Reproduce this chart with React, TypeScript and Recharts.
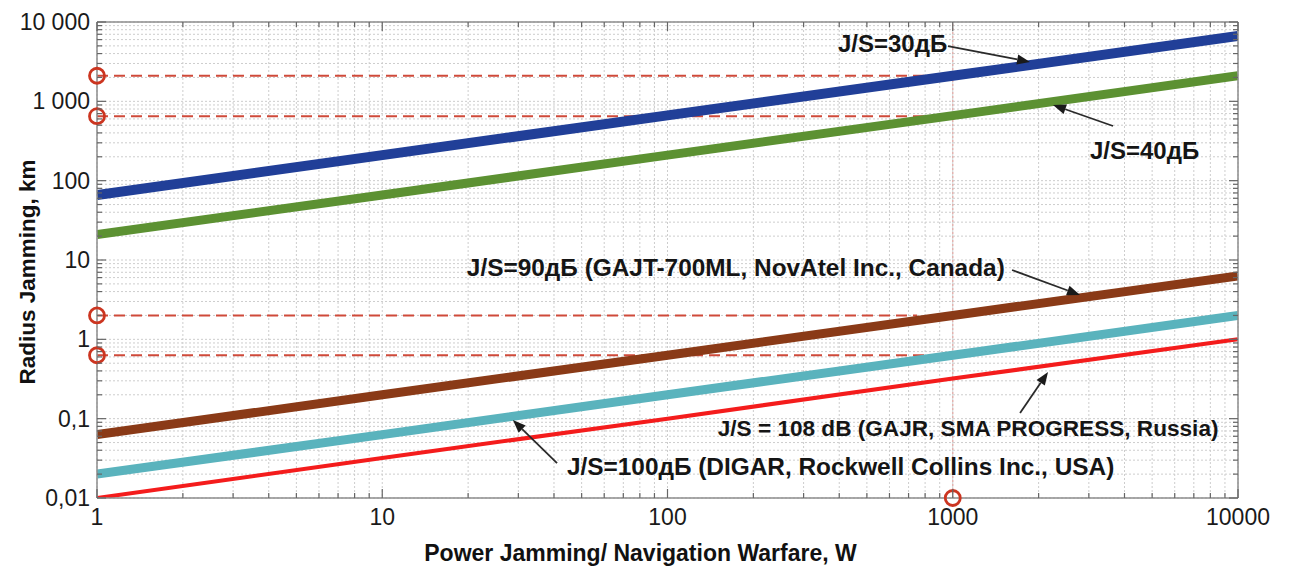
import React from "react";
import {
  LineChart,
  Line,
  XAxis,
  YAxis,
  CartesianGrid,
  ReferenceLine,
  ReferenceDot,
} from "recharts";

/* ================= DATA ================= */

// jammer power, W
const powerW = [1, 10, 100, 1000, 10000];

// jamming radius, km (at each decade)
const js30 = [66, 210, 665, 2100, 6650];
const js40 = [21, 66, 210, 660, 2100];
const js90 = [0.063, 0.2, 0.63, 2, 6.3];
const js100 = [0.02, 0.063, 0.2, 0.63, 2];
const js108 = [0.01, 0.032, 0.1, 0.32, 1];

const xDecades = [1, 10, 100, 1000, 10000];
const xTickLabels = ["1", "10", "100", "1000", "10000"];
const yDecades = [0.01, 0.1, 1, 10, 100, 1000, 10000];
const yTickLabels = ["0,01", "0,1", "1", "10", "100", "1 000", "10 000"];
const minorSteps = [1, 2, 3, 4, 5, 6, 7, 8, 9];

// red dashed guides: level (km) and where each one stops (W)
const guideLevels = [2100, 650, 2, 0.63];
const guideEnds = [1000, 1000, 750, 1000];

// red circles
const circleX = [1, 1, 1, 1, 1000];
const circleY = [2100, 650, 2, 0.63, 0.01];

// annotations (data coordinates)
const noteTexts = [
  "J/S=30дБ",
  "J/S=40дБ",
  "J/S=90дБ (GAJT-700ML, NovAtel Inc., Canada)",
  "J/S = 108 dB (GAJR, SMA PROGRESS, Russia)",
  "J/S=100дБ (DIGAR, Rockwell Collins Inc., USA)",
];
const noteSizes = [24, 24, 24.4, 22.6, 24.4];
const noteX = [396, 3028, 19.8, 150, 44.4];
const noteY = [5430, 243, 7.93, 0.0741, 0.0253];
const arrowFrom = [
  { x: 962, y: 4980 },
  { x: 3647, y: 489 },
  { x: 1614, y: 7.48 },
  { x: 1722, y: 0.118 },
  { x: 41, y: 0.0276 },
];
const arrowTo = [
  { x: 1866, y: 3135 },
  { x: 2246, y: 900 },
  { x: 2793, y: 3.62 },
  { x: 2158, y: 0.387 },
  { x: 28.7, y: 0.0962 },
];

/* ================= SETUP ================= */

const series = [
  { key: "js30", values: js30, color: "#213f98", width: 10 },
  { key: "js40", values: js40, color: "#5c9132", width: 9 },
  { key: "js90", values: js90, color: "#8a3a17", width: 9 },
  { key: "js100", values: js100, color: "#5ab3bd", width: 9 },
  { key: "js108", values: js108, color: "#f41c1c", width: 4 },
];

const data = powerW.map((p, i) => {
  const row: Record<string, number> = { p };
  series.forEach((s) => (row[s.key] = s.values[i]));
  return row;
});

const xTicks = xDecades
  .slice(0, -1)
  .flatMap((d) => minorSteps.map((m) => d * m))
  .concat(xDecades[xDecades.length - 1]);
const yTicks = yDecades
  .slice(0, -1)
  .flatMap((d) => minorSteps.map((m) => d * m))
  .concat(yDecades[yDecades.length - 1]);

const FONT = "'Liberation Sans', Arial, Helvetica, sans-serif";
const FRAME = "#8c8c8c";
const TM = 6;

function findLabel(v: number, decades: number[], labels: string[]) {
  const i = decades.findIndex((d) => Math.abs(Math.log10(v / d)) < 1e-6);
  return i >= 0 ? labels[i] : null;
}

function makeTick(side: string, decades: number[], labels: string[]) {
  return (props: any) => {
    const { x, y, payload } = props;
    const label = findLabel(payload.value, decades, labels);
    const len = label !== null ? 9 : 5;
    let line = null;
    let text = null;
    if (side === "bottom") {
      const ay = y - TM;
      line = <line x1={x} y1={ay} x2={x} y2={ay - len} />;
      if (label !== null)
        text = (
          <text x={x} y={ay + 27} textAnchor="middle">
            {label}
          </text>
        );
    } else if (side === "left") {
      const ax = x + TM;
      line = <line x1={ax} y1={y} x2={ax + len} y2={y} />;
      if (label !== null)
        text = (
          <text x={ax - 7} y={y} textAnchor="end" dominantBaseline="central">
            {label}
          </text>
        );
    } else if (side === "top") {
      const ay = y + TM;
      line = <line x1={x} y1={ay} x2={x} y2={ay + len} />;
    } else {
      const ax = x - TM;
      line = <line x1={ax} y1={y} x2={ax - len} y2={y} />;
    }
    return (
      <g>
        <g stroke="#666" strokeWidth={1.2}>{line}</g>
        <g fill="#1a1a1a" fontSize={23} fontFamily={FONT}>
          {text}
        </g>
      </g>
    );
  };
}

function Arrow(props: any) {
  const { x1, y1, x2, y2 } = props;
  const a = Math.atan2(y2 - y1, x2 - x1);
  const L = 13;
  const W = 5;
  const bx = x2 - L * Math.cos(a);
  const by = y2 - L * Math.sin(a);
  const px = -Math.sin(a) * W;
  const py = Math.cos(a) * W;
  return (
    <g>
      <line x1={x1} y1={y1} x2={bx} y2={by} stroke="#2a2a2a" strokeWidth={1.8} />
      <polygon
        points={`${x2},${y2} ${bx + px},${by + py} ${bx - px},${by - py}`}
        fill="#1a1a1a"
      />
    </g>
  );
}

function noteShape(text: string, size: number) {
  return (props: any) => (
    <text
      x={props.cx}
      y={props.cy}
      dominantBaseline="central"
      fontFamily={FONT}
      fontWeight="bold"
      fontSize={size}
      fill="#151515"
    >
      {text}
    </text>
  );
}

/* ================= COMPONENT ================= */

export default function App() {
  return (
    <div style={{ width: 1273, height: 563, background: "#fff" }}>
      <LineChart
        width={1273}
        height={563}
        data={data}
        margin={{ top: 10, right: 33, bottom: 8, left: 0 }}
      >
        <CartesianGrid stroke="#cdcdcd" strokeDasharray="2 2" />

        <XAxis
          dataKey="p"
          type="number"
          scale="log"
          domain={[1, 10000]}
          ticks={xTicks}
          interval={0}
          allowDataOverflow
          height={65}
          tickSize={0}
          tickMargin={TM}
          tickLine={false}
          axisLine={{ stroke: FRAME, strokeWidth: 1.5 }}
          tick={makeTick("bottom", xDecades, xTickLabels)}
          label={(p: any) => (
            <text
              x={p.viewBox.x + p.viewBox.width / 2 - 27}
              y={p.viewBox.y + 55}
              textAnchor="middle"
              dominantBaseline="central"
              fontFamily={FONT}
              fontWeight="bold"
              fontSize={23}
              fill="#111"
            >
              Power Jamming/ Navigation Warfare, W
            </text>
          )}
        />
        <XAxis
          xAxisId="top"
          orientation="top"
          dataKey="p"
          type="number"
          scale="log"
          domain={[1, 10000]}
          ticks={xTicks}
          interval={0}
          allowDataOverflow
          height={4}
          tickSize={0}
          tickMargin={TM}
          tickLine={false}
          axisLine={{ stroke: FRAME, strokeWidth: 1.5 }}
          tick={makeTick("top", xDecades, xTickLabels)}
        />
        <YAxis
          type="number"
          scale="log"
          domain={[0.01, 10000]}
          ticks={yTicks}
          interval={0}
          allowDataOverflow
          width={89}
          tickSize={0}
          tickMargin={TM}
          tickLine={false}
          axisLine={{ stroke: FRAME, strokeWidth: 1.5 }}
          tick={makeTick("left", yDecades, yTickLabels)}
          label={(p: any) => {
            const cx = p.viewBox.x + 19;
            const cy = p.viewBox.y + p.viewBox.height / 2 + 12;
            return (
              <text
                x={cx}
                y={cy}
                transform={`rotate(-90, ${cx}, ${cy})`}
                textAnchor="middle"
                dominantBaseline="central"
                fontFamily={FONT}
                fontWeight="bold"
                fontSize={22.5}
                fill="#111"
              >
                Radius Jamming, km
              </text>
            );
          }}
        />
        <YAxis
          yAxisId="right"
          orientation="right"
          type="number"
          scale="log"
          domain={[0.01, 10000]}
          ticks={yTicks}
          interval={0}
          allowDataOverflow
          width={10}
          tickSize={0}
          tickMargin={TM}
          tickLine={false}
          axisLine={{ stroke: FRAME, strokeWidth: 1.5 }}
          tick={makeTick("right", yDecades, yTickLabels)}
        />

        <ReferenceLine
          x={1000}
          stroke="#e3b3b0"
          strokeDasharray="2 2"
          strokeWidth={1.5}
        />

        {guideLevels.map((lvl, i) => (
          <ReferenceLine
            key={"g" + i}
            segment={[
              { x: 1, y: lvl },
              { x: guideEnds[i], y: lvl },
            ]}
            stroke="#cf4a3a"
            strokeWidth={2}
            strokeDasharray="11 6"
            ifOverflow="visible"
          />
        ))}

        {series.map((s) => (
          <Line
            key={s.key}
            type="linear"
            dataKey={s.key}
            stroke={s.color}
            strokeWidth={s.width}
            dot={false}
            activeDot={false}
            isAnimationActive={false}
          />
        ))}

        {circleX.map((cx, i) => (
          <ReferenceDot
            key={"c" + i}
            x={cx}
            y={circleY[i]}
            r={7.5}
            fill="none"
            stroke="#cc3520"
            strokeWidth={2.8}
            ifOverflow="visible"
          />
        ))}

        {noteTexts.map((t, i) => (
          <ReferenceLine
            key={"a" + i}
            segment={[arrowFrom[i], arrowTo[i]]}
            ifOverflow="visible"
            shape={Arrow}
          />
        ))}

        {noteTexts.map((t, i) => (
          <ReferenceDot
            key={"n" + i}
            x={noteX[i]}
            y={noteY[i]}
            r={1}
            ifOverflow="visible"
            shape={noteShape(t, noteSizes[i])}
          />
        ))}
      </LineChart>
    </div>
  );
}
